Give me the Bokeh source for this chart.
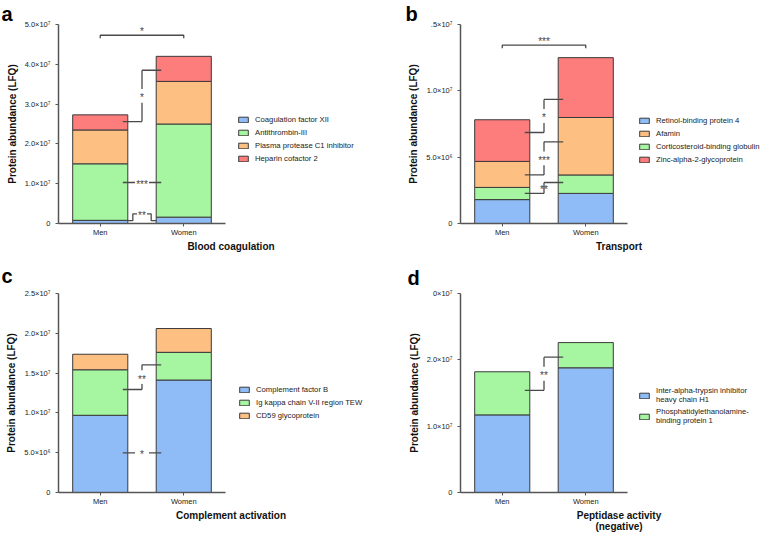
from bokeh.plotting import figure
from bokeh.layouts import gridplot
from bokeh.models import Range1d, FixedTicker, Legend, LegendItem, ColumnDataSource
from bokeh.embed import file_html
from bokeh.resources import INLINE

groups = ["Men", "Women"]

# ---------------- panel a : Blood coagulation ----------------
a_names = ["Coagulation factor XII", "Antithrombin-III",
           "Plasma protease C1 inhibitor", "Heparin cofactor 2"]
a_coag_xii = [0.08e7, 0.16e7]
a_antithrombin = [1.42e7, 2.34e7]
a_c1_inhibitor = [0.85e7, 1.07e7]
a_heparin_cof2 = [0.38e7, 0.63e7]
a_legend_order = [0, 1, 2, 3]
a_ymax = 50000000
a_ticks = [0, 10000000, 20000000, 30000000, 40000000, 50000000]
a_tick_labels = ["0", "1.0×10⁷", "2.0×10⁷", "3.0×10⁷", "4.0×10⁷", "5.0×10⁷"]
a_sig = [("bracket", 4.73e7, None, "*"), ("step", 2.56e7, 3.85e7, "*"),
         ("line", 1.03e7, None, "***"), ("hump", 0.07e7, 0.24e7, "**")]

# ---------------- panel b : Transport ----------------
b_names = ["Retinol-binding protein 4", "Corticosteroid-binding globulin",
           "Afamin", "Zinc-alpha-2-glycoprotein"]
b_retinol = [1.80e6, 2.27e6]
b_cbg = [0.92e6, 1.39e6]
b_afamin = [1.96e6, 4.33e6]
b_zag = [3.14e6, 4.51e6]
b_legend_order = [0, 2, 1, 3]
b_ymax = 15000000
b_ticks = [0, 5000000, 10000000, 15000000]
b_tick_labels = ["0", "5.0×10⁶", "1.0×10⁷", ".5×10⁷"]
b_sig = [("bracket", 13.44e6, None, "***"), ("step", 6.86e6, 9.35e6, "*"),
         ("step", 3.66e6, 6.16e6, "***"), ("step", 2.27e6, 3.09e6, "**")]

# ---------------- panel c : Complement activation ----------------
c_names = ["Complement factor B", "Ig kappa chain V-II region TEW", "CD59 glycoprotein"]
c_cfb = [9.70e6, 14.13e6]
c_igk = [5.72e6, 3.48e6]
c_cd59 = [1.95e6, 2.99e6]
c_legend_order = [0, 1, 2]
c_ymax = 25000000
c_ticks = [0, 5000000, 10000000, 15000000, 20000000, 25000000]
c_tick_labels = ["0", "5.0×10⁶", "1.0×10⁷", "1.5×10⁷", "2.0×10⁷", "2.5×10⁷"]
c_sig = [("step", 12.94e6, 16.04e6, "**"), ("line", 4.97e6, None, "*")]

# ---------------- panel d : Peptidase activity ----------------
d_names = ["Inter-alpha-trypsin inhibitor\nheavy chain H1",
           "Phosphatidylethanolamine-\nbinding protein 1"]
d_itih1 = [1.17e7, 1.88e7]
d_pebp1 = [0.65e7, 0.38e7]
d_legend_order = [0, 1]
d_ymax = 30000000
d_ticks = [0, 10000000, 20000000, 30000000]
d_tick_labels = ["0", "1.0×10⁷", "2.0×10⁷", "0×10⁷"]
d_sig = [("step", 1.54e7, 2.04e7, "**")]

BLUE, GREEN, ORANGE, RED = "#8fbcf6", "#a6f5a0", "#fdbf82", "#fd7c7c"
EDGE = "#3a3a3a"
AXC = "#555555"
FONT = "Liberation Sans"
FW = 167.0   # frame pixels spanned by the two groups
BW = 0.66    # bar width in group units


def make_panel(width, height, left, top, bottom, ymax, ticks, tick_labels, xlabel,
               series, names, colors, legend_order, legend_xy, letter, letter_offset,
               letter_standoff, sig):
    frame_w = width - left
    frame_h = height - top - bottom
    x_end = 2.0 * frame_w / FW
    p = figure(width=width, height=height, x_range=Range1d(0, x_end),
               y_range=Range1d(0, ymax), output_backend="svg", toolbar_location=None,
               min_border_left=left, min_border_right=0, min_border_top=top,
               min_border_bottom=bottom, title=letter)
    p.outline_line_color = None
    p.xgrid.visible = False
    p.ygrid.visible = False

    # panel letter as the figure title
    p.title.text_font = FONT
    p.title.text_font_style = "bold"
    p.title.text_font_size = "20px"
    p.title.text_color = "#000000"
    p.title.align = "left"
    p.title.offset = letter_offset
    p.title.standoff = letter_standoff

    pos = [i + 0.5 for i in range(len(groups))]
    data = {"x": pos}
    keys = []
    for i, s in enumerate(series):
        data["s%d" % i] = s
        keys.append("s%d" % i)
    src = ColumnDataSource(data)
    rs = p.vbar_stack(keys, x="x", width=BW, source=src, fill_color=colors,
                      line_color=EDGE, line_width=1)

    xa = p.xaxis[0]
    xa.bounds = (0, 2)
    xa.ticker = FixedTicker(ticks=pos)
    xa.major_label_overrides = {pos[i]: groups[i] for i in range(len(groups))}
    xa.axis_label = xlabel
    ya = p.yaxis[0]
    ya.ticker = FixedTicker(ticks=ticks)
    ya.major_label_overrides = {ticks[i]: tick_labels[i] for i in range(len(ticks))}
    ya.axis_label = "Protein abundance (LFQ)"
    for ax in (xa, ya):
        ax.axis_line_color = AXC
        ax.axis_line_width = 1.5
        ax.major_tick_line_color = AXC
        ax.major_tick_in = 0
        ax.major_tick_out = 3
        ax.minor_tick_line_color = None
        ax.major_label_text_font = FONT
        ax.major_label_text_font_size = "7.5px"
        ax.major_label_text_color = "#222222"
        ax.axis_label_text_font = FONT
        ax.axis_label_text_font_style = "bold"
        ax.axis_label_text_color = "#111111"
    xa.major_label_standoff = 1
    xa.axis_label_standoff = 1
    xa.axis_label_text_font_size = "10px"
    xa.axis_label_text_line_height = 1.0
    ya.major_label_standoff = 5
    ya.axis_label_standoff = 4
    ya.axis_label_text_font_size = "10px"

    legend = Legend(items=[LegendItem(label=names[i], renderers=[rs[i]]) for i in legend_order],
                    location=legend_xy, orientation="vertical",
                    background_fill_alpha=0, border_line_alpha=0, padding=0, margin=0,
                    spacing=3, glyph_width=12, glyph_height=7, label_height=10,
                    label_standoff=6, label_text_font=FONT, label_text_font_size="7.7px",
                    label_text_color="#222222")
    p.add_layout(legend)

    # significance annotations
    ypx = ymax / frame_h
    xpx = 2.0 / FW
    eL = pos[0] + BW / 2
    eR = pos[1] - BW / 2
    xm = (pos[0] + pos[1]) / 2
    ov = 0.06
    xs, ys = [], []
    tx, ty, tt = [], [], []
    ux, uy, ut = [], [], []
    for kind, y1, y2, txt in sig:
        if kind == "bracket":
            d = 3 * ypx
            xs.append([pos[0], pos[0], pos[1], pos[1]])
            ys.append([y1 - d, y1, y1, y1 - d])
            ux.append(xm); uy.append(y1); ut.append(txt)
        elif kind == "step":
            xs.append([eL - ov, xm]); ys.append([y1, y1])
            xs.append([xm, eR + ov]); ys.append([y2, y2])
            mid = (y1 + y2) / 2
            g = 7 * ypx
            if (y2 - y1) / 2 > g + 2 * ypx:
                xs.append([xm, xm]); ys.append([y1, mid - g])
                xs.append([xm, xm]); ys.append([mid + g, y2])
            else:
                xs.append([xm, xm]); ys.append([y1, y2])
            tx.append(xm); ty.append(mid); tt.append(txt)
        elif kind == "line":
            g = 7 * xpx
            xs.append([eL - ov, xm - g]); ys.append([y1, y1])
            xs.append([xm + g, eR + ov]); ys.append([y1, y1])
            tx.append(xm); ty.append(y1); tt.append(txt)
        elif kind == "hump":
            g = 5 * xpx
            xs.append([eL, eL + ov, eL + ov, xm - g]); ys.append([y1, y1, y2, y2])
            xs.append([xm + g, eR - ov, eR - ov, eR]); ys.append([y2, y2, y1, y1])
            tx.append(xm); ty.append(y2); tt.append(txt)
    p.multi_line(xs, ys, line_color="#4a4a4a", line_width=1.3)
    if tt:
        p.text(tx, ty, text=tt, text_align="center", text_baseline="middle",
               text_font_size="10px", text_color="#444444", y_offset=2)
    if ut:
        p.text(ux, uy, text=ut, text_align="center", text_baseline="middle",
               text_font_size="10px", text_color="#444444", y_offset=-4)
    return p


pa = make_panel(403, 255, 58, 22, 32, a_ymax, a_ticks, a_tick_labels, "Blood coagulation",
                [a_coag_xii, a_antithrombin, a_c1_inhibitor, a_heparin_cof2], a_names,
                [BLUE, GREEN, ORANGE, RED], a_legend_order, (179, 60), "a", -57, 0, a_sig)
pb = make_panel(374, 255, 57, 22, 32, b_ymax, b_ticks, b_tick_labels, "Transport",
                [b_retinol, b_cbg, b_afamin, b_zag], b_names,
                [BLUE, GREEN, ORANGE, RED], b_legend_order, (178, 59), "b", -55, 0, b_sig)
pc = make_panel(403, 279, 58, 37, 41, c_ymax, c_ticks, c_tick_labels, "Complement activation",
                [c_cfb, c_igk, c_cd59], c_names,
                [BLUE, GREEN, ORANGE], c_legend_order, (180, 72), "c", -57, 14, c_sig)
pd = make_panel(374, 279, 57, 37, 41, d_ymax, d_ticks, d_tick_labels, "Peptidase activity\n(negative)",
                [d_itih1, d_pebp1], d_names,
                [BLUE, GREEN], d_legend_order, (178, 67), "d", -53, 9, d_sig)

grid = gridplot([[pa, pb], [pc, pd]], toolbar_location=None)
open("out.html", "w").write(file_html(grid, INLINE))
